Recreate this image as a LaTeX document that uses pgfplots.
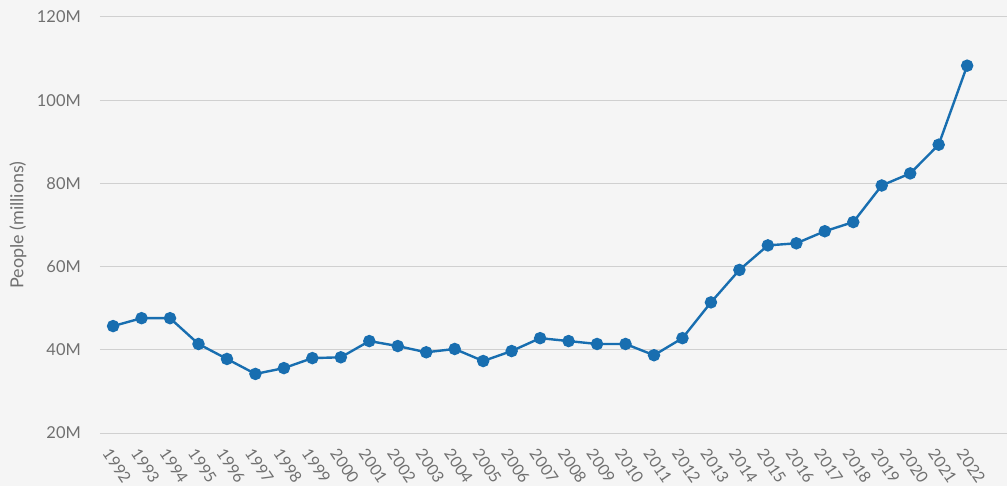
\documentclass[border=0pt]{standalone}
\usepackage{pgfplots}
\pgfplotsset{compat=1.18}
\usepackage{fontspec}
\setmainfont{Lato}
\definecolor{bgc}{RGB}{245,245,245}
\definecolor{gridc}{RGB}{208,208,208}
\definecolor{txtc}{RGB}{112,112,112}
\definecolor{linec}{RGB}{24,110,176}
\begin{document}
\begin{tikzpicture}
\path[use as bounding box, fill=bgc] (-100bp,-53bp) rectangle (907bp,433bp);
\begin{axis}[
  at={(0,0)}, anchor=south west,
  scale only axis, width=907bp, height=416bp,
  xmin=-0.46, xmax=31.4, ymin=20, ymax=120,
  axis line style={draw=none},
  ytick={20,40,60,80,100,120},
  yticklabels={20M,40M,60M,80M,100M,120M},
  xtick={0,...,30},
  xticklabels={1992,1993,1994,1995,1996,1997,1998,1999,2000,2001,2002,2003,2004,2005,2006,2007,2008,2009,2010,2011,2012,2013,2014,2015,2016,2017,2018,2019,2020,2021,2022},
  major tick length=0pt,
  xmajorgrids=false, ymajorgrids=true,
  major grid style={draw=gridc, line width=1bp},
  yticklabel style={font=\fontsize{16.5}{16.5}\selectfont, text=txtc, anchor=east, inner xsep=0pt, inner ysep=0pt, xshift=-19bp},
  xticklabel style={font=\fontsize{16}{16}\selectfont, text=txtc, inner sep=0pt, xshift=-1.5bp, yshift=-14bp, rotate=-56, anchor=north west},
  ylabel={People (millions)},
  every axis y label/.style={at={(-82bp,208bp)}, rotate=90, anchor=center, font=\fontsize{18}{18}\selectfont, text=txtc},
  clip=false,
]
\addplot[color=linec, line width=2.4bp, mark=*, mark size=5bp, mark options={fill=linec, draw=none}] coordinates {
(0,45.7) (1,47.6) (2,47.6) (3,41.4) (4,37.8) (5,34.2) (6,35.6) (7,38.0) (8,38.2) (9,42.1)
(10,40.9) (11,39.4) (12,40.2) (13,37.3) (14,39.7) (15,42.8) (16,42.1) (17,41.4) (18,41.4) (19,38.7)
(20,42.8) (21,51.4) (22,59.2) (23,65.1) (24,65.6) (25,68.5) (26,70.7) (27,79.5) (28,82.4) (29,89.3)
(30,108.3)
};
\end{axis}
\end{tikzpicture}
\end{document}
